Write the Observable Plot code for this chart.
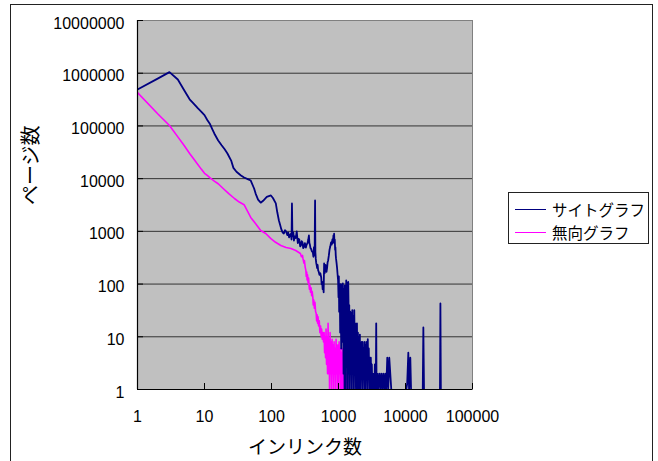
<!DOCTYPE html>
<html><head><meta charset="utf-8">
<script src="https://cdn.jsdelivr.net/npm/d3@7"></script>
<script src="https://cdn.jsdelivr.net/npm/@observablehq/plot@0.6"></script>
<style>
html,body{margin:0;padding:0;background:#fff;overflow:hidden}
#wrap{position:relative;width:658px;height:461px;overflow:hidden;font-family:"Liberation Sans","Noto Sans CJK JP",sans-serif}
#wrap svg{position:absolute;left:0;top:0}
#border{position:absolute;left:10px;top:4px;width:643px;height:480px;border:1px solid #222;box-sizing:border-box}
#legend{position:absolute;left:508px;top:192px;width:141px;height:52px;border:1px solid #222;box-sizing:border-box;background:#fff;font-family:"Noto Sans CJK JP",sans-serif;font-size:15.5px}
.item{position:absolute;left:6px;height:20px;display:flex;align-items:center}
.item .sw{width:31px;height:0;margin-right:6px}
.item span{line-height:20px}
</style></head>
<body>
<div id="wrap"><div id="border"></div></div>
<script>
// ---- data ----
const xTicks = [1, 10, 100, 1000, 10000, 100000];
const yTicks = [1, 10, 100, 1000, 10000, 100000, 1000000, 10000000];
const seriesNames = ["サイトグラフ", "無向グラフ"];
const seriesColors = ["#000080", "#ff00ff"];

// サイトグラフ (in-link count -> page count)
const siteDeg = [1,2,3,4,5,6,7,8,9,10,11,12,13,14,16,18,20,22,25,27,30,35,39,45,49,55,58,63,69,75,85,98,105,116,
  122,129,135,140,147,153,159,165,172,178,183,189,195,199,202,205,208,212,216,222,230,238,247,253,260,268,275,282,290,297,
  305,315,326,335,345,354,362,368,375,382,390,400,414,422,430,440,447,452,458,464,472,480,488,497,508,520,535,552,560,570,
  580,592,600,610,620,630,640,650,662,675,688,700,718,735,755,774,792,810,825,840,850,860,870,880,890,900,910,920,936,953,970,986,
  1000,1012,1023,1035,1047,1059,1072,1084,1097,1109,1122,1135,1148,1162,1175,1189,1203,1216,1231,1245,1259,1274,1289,1304,
  1319,1334,1350,1365,1381,1397,1413,1430,1446,1463,1480,1497,1515,1532,1550,1568,1586,1605,1623,1642,1661,1681,1700,1720,
  1740,1760,1780,1801,1822,1843,1864,1886,
  1920,1950,1968,1990,2010,2038,2060,2085,2110,2147,2184,2222,2261,2301,2341,2382,2424,2466,2509,2553,2598,2643,2689,2736,
  2784,2833,2883,2933,2984,3037,3090,3144,3199,3255,3312,3370,3429,3489,3550,3612,3655,3700,
  3783,3900,4054,4200,4343,4500,4654,4820,4987,5160,5343,5530,5725,5926,6134,6300,
  10280,10600,11020,11300,11800,12100,12300,
  18100,18470,18900,19100,
  32700,33190,33700,34000];
const siteCount = [490000,790000,1050000,760000,470000,320000,260000,215000,185000,160000,130000,110000,88000,72000,53000,43000,36000,30000,22000,16000,13500,11500,10500,9700,9200,6500,5200,4000,3500,3800,4500,4800,4300,3400,
  2300,1610,1300,1100,950,910,1050,1000,850,950,766,850,900,700,3380,900,800,950,671,800,750,1000,600,720,700,520,540,650,620,480,
  500,600,494,560,600,700,836,600,550,480,465,420,398,330,500,350,3860,400,300,257,230,200,230,181,170,150,160,133,100,110,
  80,86,70,246,160,180,230,225,170,200,260,280,350,450,520,617,560,700,600,836,700,900,620,700,450,494,350,300,250,200,150,117,
  56,140,30,94,60,12,100,40,6,90,25,100,8,103,50,2,80,20,1,94,10,60,1,117,
  30,3,103,15,1,110,40,2,40,8,1,30,12,2,28,6,1,32,10,2,25,5,1,32,
  8,2,18,4,1,13,3,18,
  1,12,3,9,1,10,2,11,1,7,2,8,1,8,2,6,1,8,1,7,2,8,1,9,
  2,6,1,4,1,4,1,3,1,2,1,2,1,3,1,2,18,1,
  2,1,2,1,2,1,2,1,2,1,4,1,4,2,1,NaN,
  1,1.3,5,1,4,1,NaN,
  1,15,1,NaN,
  1,43,1,NaN];

// 無向グラフ
const undirDeg = [1,2,3,4,5,6,7,8,9,10,11,12,14,16,19,23,28,33,39,44,49,58,69,82,98,115,138,165,195,230,
  270,280,290,295,305,310,318,326,330,335,340,345,352,358,362,368,375,382,390,398,405,414,420,428,436,445,455,464,472,480,
  488,495,505,516,528,540,552,560,572,585,598,610,
  620,630,641,652,663,675,687,699,711,723,736,749,762,775,788,802,816,830,844,859,874,889,904,920,936,953,969,986,
  1003,1021,1039,1057,1075,1094,1113,1132,1152,1172,1192,1213,1234,1256,1278,1300,1323,1346,1370,1393];
const undirCount = [430000,170000,102000,62000,42000,30000,23000,18400,15000,12600,11500,10500,9000,8000,6500,5200,4200,3600,3200,2400,1840,1400,1040,910,730,620,540,494,473,434,
  380,330,350,306,250,280,210,181,140,170,120,150,105,130,103,80,95,70,85,60,72,56,40,50,35,45,30,28,20,26,
  18,24,16,20,12,16,10,14,9,12,8,12,
  5,10,4,14,3,10,2,18,2,9,1,12,2,8,1,9,2,7,1,8,2,6,1,9,2,7,1,7,
  1,8,2,6,1,5,1,6,1,3,1,4,1,2,1,2,1,1,2,1];

// ---- build ----
const site = siteDeg.map((d, i) => ({x: d, y: siteCount[i]}));
const undir = undirDeg.map((d, i) => ({x: d, y: undirCount[i]}));
const font = '"Liberation Sans","Noto Sans CJK JP",sans-serif';
const jp = '"Noto Sans CJK JP",sans-serif';

const chart = Plot.plot({
  width: 658, height: 461,
  marginLeft: 137, marginRight: 186, marginTop: 20, marginBottom: 72,
  style: {fontFamily: font, fontSize: "16px", background: "transparent", color: "#000", overflow: "visible"},
  x: {type: "log", domain: [1, 100000], label: null},
  y: {type: "log", domain: [1, 10000000], label: null},
  marks: [
    Plot.frame({fill: "#c0c0c0", stroke: "#808080"}),
    Plot.ruleY(yTicks.slice(1, -1), {y: d => d, stroke: "#333", strokeWidth: 1}),
    Plot.line(undir, {x: "x", y: "y", stroke: seriesColors[1], strokeWidth: 1.6, clip: true}),
    Plot.line(site, {x: "x", y: "y", stroke: seriesColors[0], strokeWidth: 1.8, clip: true}),
    Plot.ruleX([1], {x: d => d, stroke: "#000", strokeWidth: 1.2}),
    Plot.ruleY([1], {y: d => d, stroke: "#000", strokeWidth: 1.2}),
    Plot.tickX(xTicks, {x: d => d, insetTop: 363, stroke: "#000"}),
    Plot.tickY(yTicks, {y: d => d, insetRight: 329, stroke: "#000"}),
    Plot.axisX(xTicks, {tickSize: 0, tickPadding: 21, fontSize: 16, tickFormat: d => String(d), label: null}),
    Plot.axisY(yTicks, {tickSize: 0, tickPadding: 13, dy: 3, fontSize: 16, tickFormat: d => String(d), label: null}),
    Plot.text(["インリンク数"], {frameAnchor: "bottom", dy: 58, fontSize: 19, fontFamily: jp, lineAnchor: "middle"}),
    Plot.text(["ページ数"], {frameAnchor: "left", dx: -106, rotate: -90, fontSize: 20, fontFamily: jp, lineAnchor: "middle"})
  ]
});
const wrap = document.getElementById("wrap");
wrap.insertBefore(chart, wrap.firstChild);

const legend = document.createElement("div");
legend.id = "legend";
seriesNames.forEach((name, i) => {
  const it = document.createElement("div");
  it.className = "item";
  it.style.top = (6 + i * 23) + "px";
  const sw = document.createElement("div");
  sw.className = "sw";
  sw.style.borderTop = "1.5px solid " + seriesColors[i];
  const t = document.createElement("span");
  t.textContent = name;
  it.appendChild(sw); it.appendChild(t);
  legend.appendChild(it);
});
wrap.appendChild(legend);
</script>
</body></html>
